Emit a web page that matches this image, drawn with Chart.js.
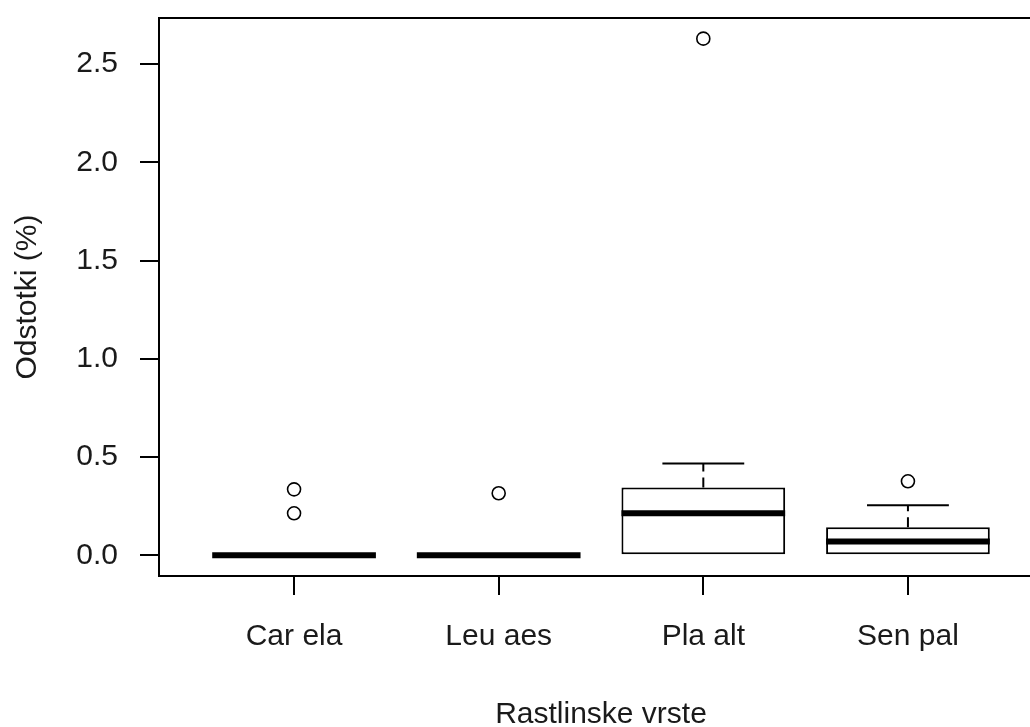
<!DOCTYPE html>
<html>
<head>
<meta charset="utf-8">
<script src="https://cdn.jsdelivr.net/npm/chart.js@4"></script>
<style>
  html, body { margin: 0; padding: 0; background: #fff; overflow: hidden; }
  #wrap { width: 1060px; height: 727px; position: relative; }
</style>
</head>
<body>
<div id="wrap"><canvas id="graph_1"></canvas></div>
<script>
// data
const categories = ["Car ela", "Leu aes", "Pla alt", "Sen pal"];
const lowerWhisker = [0, 0, 0, 0];
const q1 = [0, 0, 0, 0];
const median = [0, 0, 0.214, 0.071];
const q3 = [0, 0, 0.346, 0.143];
const upperWhisker = [0, 0, 0.468, 0.255];
const outliers = [[0.214, 0.336], [0.316], [2.63], [0.377]];
const yTicks = [0, 0.5, 1.0, 1.5, 2.0, 2.5];

const positions = categories.map((c, i) => i + 1);
const boxData = categories.map((c, i) => ({ x: positions[i], y: [q1[i], q3[i]] }));
const outlierData = [];
outliers.forEach((vals, i) => vals.forEach(v => outlierData.push({ x: positions[i], y: v })));

const textColor = "#1a1a1a";
const font = { family: "'Liberation Sans', Arial, sans-serif", size: 30 };

// medians, whiskers, caps and the frame
const boxLines = {
  id: "boxLines",
  afterDatasetsDraw(chart) {
    const { ctx, chartArea, scales: { x, y } } = chart;
    ctx.save();
    ctx.strokeStyle = "#000";
    positions.forEach((p, i) => {
      const cx = x.getPixelForValue(p);
      const capL = x.getPixelForValue(p - 0.2);
      const capR = x.getPixelForValue(p + 0.2);
      const boxL = x.getPixelForValue(p - 0.4);
      const boxR = x.getPixelForValue(p + 0.4);

      // whiskers (dashed)
      ctx.lineWidth = 2;
      ctx.setLineDash([10, 6]);
      ctx.beginPath();
      if (upperWhisker[i] > q3[i]) {
        ctx.moveTo(cx, y.getPixelForValue(q3[i]));
        ctx.lineTo(cx, y.getPixelForValue(upperWhisker[i]));
      }
      if (lowerWhisker[i] < q1[i]) {
        ctx.moveTo(cx, y.getPixelForValue(q1[i]));
        ctx.lineTo(cx, y.getPixelForValue(lowerWhisker[i]));
      }
      ctx.stroke();

      // caps (skip the ones that sit on the box edge)
      ctx.setLineDash([]);
      ctx.beginPath();
      if (upperWhisker[i] > q3[i]) {
        ctx.moveTo(capL, y.getPixelForValue(upperWhisker[i]));
        ctx.lineTo(capR, y.getPixelForValue(upperWhisker[i]));
      }
      if (lowerWhisker[i] < q1[i]) {
        ctx.moveTo(capL, y.getPixelForValue(lowerWhisker[i]));
        ctx.lineTo(capR, y.getPixelForValue(lowerWhisker[i]));
      }
      ctx.stroke();

      // median
      ctx.lineWidth = 6;
      ctx.beginPath();
      ctx.moveTo(boxL, y.getPixelForValue(median[i]));
      ctx.lineTo(boxR, y.getPixelForValue(median[i]));
      ctx.stroke();
    });

    ctx.lineWidth = 2;
    ctx.strokeRect(chartArea.left, chartArea.top, chartArea.right - chartArea.left, chartArea.bottom - chartArea.top);
    ctx.restore();
  },
};

new Chart(document.getElementById("graph_1"), {
  type: "bar",
  data: {
    datasets: [
      {
        type: "bar",
        label: "box",
        data: boxData,
        backgroundColor: "#fff",
        borderColor: "#000",
        borderWidth: 2,
        borderSkipped: false,
        barPercentage: 0.8,
        categoryPercentage: 1,
      },
      {
        type: "scatter",
        label: "outliers",
        data: outlierData,
        pointStyle: "circle",
        pointRadius: 6.5,
        pointBackgroundColor: "#fff",
        pointBorderColor: "#000",
        pointBorderWidth: 1.6,
      },
    ],
  },
  options: {
    responsive: true,
    maintainAspectRatio: false,
    animation: false,
    events: [],
    layout: { padding: { top: 18, right: 17, left: 0, bottom: 0 } },
    plugins: {
      legend: { display: false },
      tooltip: { enabled: false },
    },
    scales: {
      x: {
        type: "linear",
        min: 0.34,
        max: 4.66,
        offset: false,
        afterBuildTicks: (scale) => {
          scale.ticks = positions.map(v => ({ value: v }));
        },
        afterFit: (scale) => {
          scale.height = 151;
          scale.paddingLeft = 0;
          scale.paddingRight = 0;
        },
        grid: {
          drawOnChartArea: false,
          drawTicks: true,
          tickLength: 19,
          tickColor: "#000",
          lineWidth: 2,
          offset: false,
        },
        border: { display: false },
        ticks: {
          padding: 24,
          color: textColor,
          font: font,
          maxRotation: 0,
          autoSkip: false,
          callback: (v) => categories[v - 1],
        },
        title: {
          display: true,
          text: "Rastlinske vrste",
          color: textColor,
          font: { family: font.family, size: 30, lineHeight: 1 },
          padding: { top: 0, bottom: -3 },
        },
      },
      y: {
        type: "linear",
        min: -0.105,
        max: 2.735,
        afterBuildTicks: (scale) => {
          scale.ticks = yTicks.map(v => ({ value: v }));
        },
        afterFit: (scale) => {
          scale.width = 159;
          scale.paddingTop = 0;
          scale.paddingBottom = 0;
        },
        grid: {
          drawOnChartArea: false,
          drawTicks: true,
          tickLength: 19,
          tickColor: "#000",
          lineWidth: 2,
        },
        border: { display: false },
        ticks: {
          padding: 22,
          color: textColor,
          font: font,
          callback: (v) => v.toFixed(1),
        },
        title: {
          display: true,
          text: "Odstotki (%)",
          color: textColor,
          font: { family: font.family, size: 30, lineHeight: 1 },
          padding: { top: 13, bottom: 0 },
        },
      },
    },
  },
  plugins: [boxLines],
});
</script>
</body>
</html>
